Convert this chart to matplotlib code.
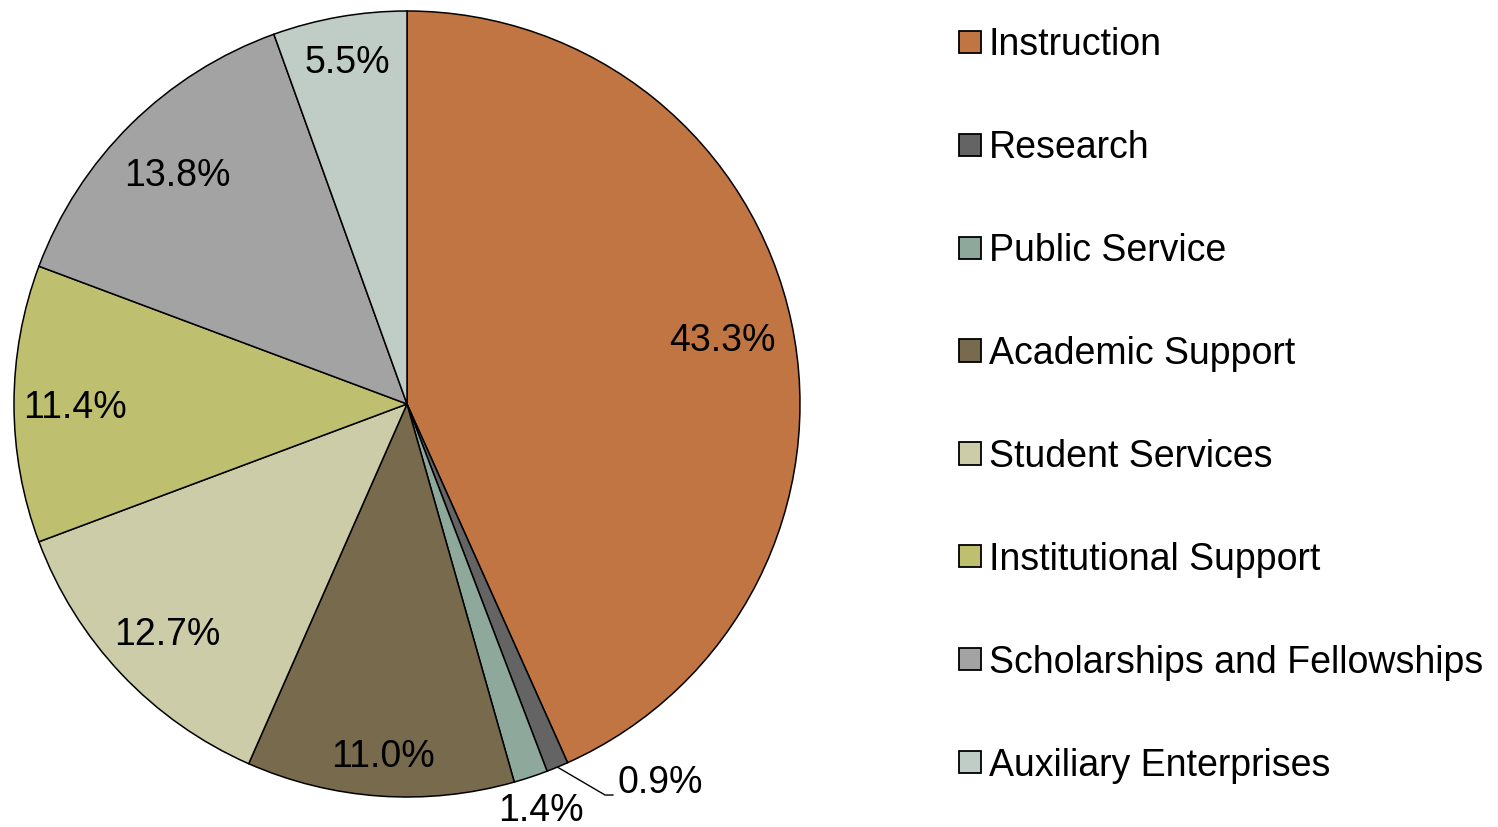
import numpy as np
import matplotlib.pyplot as plt

plt.rcParams['font.family'] = ['Liberation Sans', 'DejaVu Sans']

categories = ['Instruction', 'Research', 'Public Service', 'Academic Support',
              'Student Services', 'Institutional Support',
              'Scholarships and Fellowships', 'Auxiliary Enterprises']
shares = [43.3, 0.9, 1.4, 11.0, 12.7, 11.4, 13.8, 5.5]
colors = ['#C07542', '#646464', '#8FA89C', '#786A4C',
          '#CCCCA8', '#BFBF70', '#A3A3A3', '#BFCDC6']
# how far from the centre each percentage sits (fraction of radius)
label_r = [0.82, None, 1.08, 0.89, 0.84, 0.845, 0.83, 0.89]

fig = plt.figure(figsize=(14.98, 8.27), dpi=100)
ax = fig.add_axes([14/1498, 30/827, 786/1498, 786/827])

wedges, _ = ax.pie(shares, colors=colors, startangle=90, counterclock=False,
                   radius=1.0, wedgeprops=dict(edgecolor='black', linewidth=1.1))
ax.set_xlim(-1, 1)
ax.set_ylim(-1, 1)
ax.set_aspect('equal')

fs = 27
for w, val, r in zip(wedges, shares, label_r):
    mid = np.deg2rad((w.theta1 + w.theta2) / 2)
    txt = f'{val:.1f}%'
    if r is None:
        # small slice: label with leader line
        x0, y0 = np.cos(mid), np.sin(mid)
        ax.plot([x0, 0.504, 0.524], [y0, -0.995, -0.995], color='black',
                lw=1.0, clip_on=False)
        ax.text(0.535, -0.964, txt, fontsize=fs, ha='left', va='center')
    else:
        ax.text(r * np.cos(mid), r * np.sin(mid) - 0.01, txt, fontsize=fs,
                ha='center', va='center')

leg = fig.legend(wedges, categories, loc='upper left',
                 bbox_to_anchor=(959/1498, 1 - 27/827), frameon=False,
                 fontsize=fs, handlelength=0.59, handleheight=0.53,
                 handletextpad=0.2, labelspacing=1.785, borderpad=0,
                 borderaxespad=0)
for h in leg.legend_handles:
    h.set_edgecolor('black')
    h.set_linewidth(1.3)

fig.savefig('out.png', dpi=100)
